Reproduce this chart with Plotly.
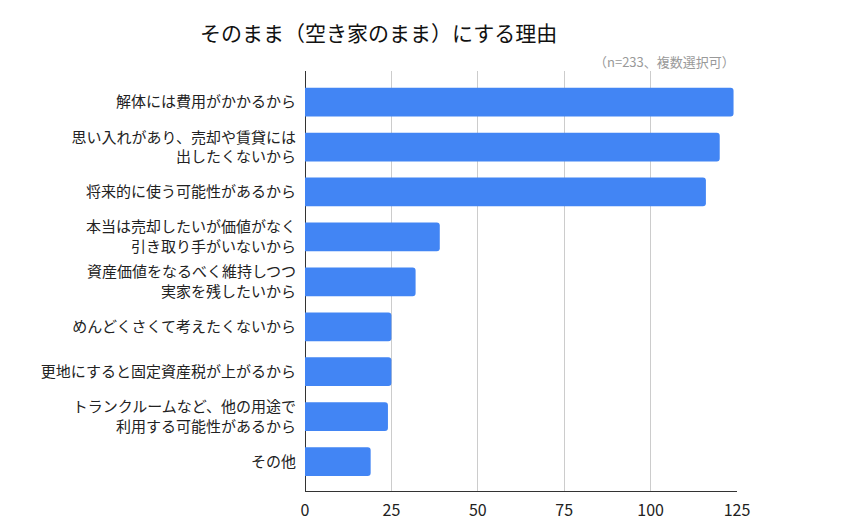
import plotly.graph_objects as go

categories = [
    "解体には費用がかかるから",
    "思い入れがあり、売却や賃貸には<br>出したくないから",
    "将来的に使う可能性があるから",
    "本当は売却したいが価値がなく<br>引き取り手がいないから",
    "資産価値をなるべく維持しつつ<br>実家を残したいから",
    "めんどくさくて考えたくないから",
    "更地にすると固定資産税が上がるから",
    "トランクルームなど、他の用途で<br>利用する可能性があるから",
    "その他",
]
values = [124, 120, 116, 39, 32, 25, 25, 24, 19]
x_ticks = [0, 25, 50, 75, 100, 125]

title_text = "そのまま（空き家のまま）にする理由"
subtitle_text = "（n=233、複数選択可）"

FONT = "Noto Sans CJK JP"

fig = go.Figure()
fig.add_trace(go.Bar(
    x=values,
    y=categories,
    orientation="h",
    marker=dict(color="#4285F4", cornerradius=3, line=dict(width=0)),
    width=0.64,
    hoverinfo="x+y",
))

fig.update_layout(
    width=858,
    height=528,
    paper_bgcolor="white",
    plot_bgcolor="white",
    margin=dict(l=297, r=129, t=63, b=45),
    showlegend=False,
    font=dict(family=FONT, color="#222222", size=15),
    title=dict(
        text=title_text,
        font=dict(family=FONT, size=21, color="#111111"),
        x=192 / 858, xanchor="left", xref="container",
        y=1 - 26 / 528, yanchor="middle", yref="container",
    ),
    annotations=[
        dict(
            text=subtitle_text,
            xref="paper", yref="paper",
            x=1.0, y=1.0, xanchor="right", yanchor="bottom",
            yshift=-2,
            showarrow=False,
            font=dict(family=FONT, size=13, color="#999999"),
        )
    ],
)

fig.update_xaxes(
    range=[0, 125],
    tickvals=x_ticks,
    ticktext=[str(v) for v in x_ticks],
    showgrid=True,
    gridcolor="#cccccc",
    gridwidth=1,
    zeroline=True,
    zerolinecolor="#333333",
    zerolinewidth=1,
    showline=True,
    linecolor="#333333",
    linewidth=1,
    ticks="",
    ticklabelstandoff=5,
    tickfont=dict(family=FONT, size=16, color="#222222"),
    fixedrange=True,
)
fig.update_yaxes(
    type="category",
    range=[8.655, -0.693],
    showgrid=False,
    showline=False,
    ticks="",
    ticklabelstandoff=8,
    tickfont=dict(family=FONT, size=15, color="#222222"),
    fixedrange=True,
)

fig.write_html("out.html")
